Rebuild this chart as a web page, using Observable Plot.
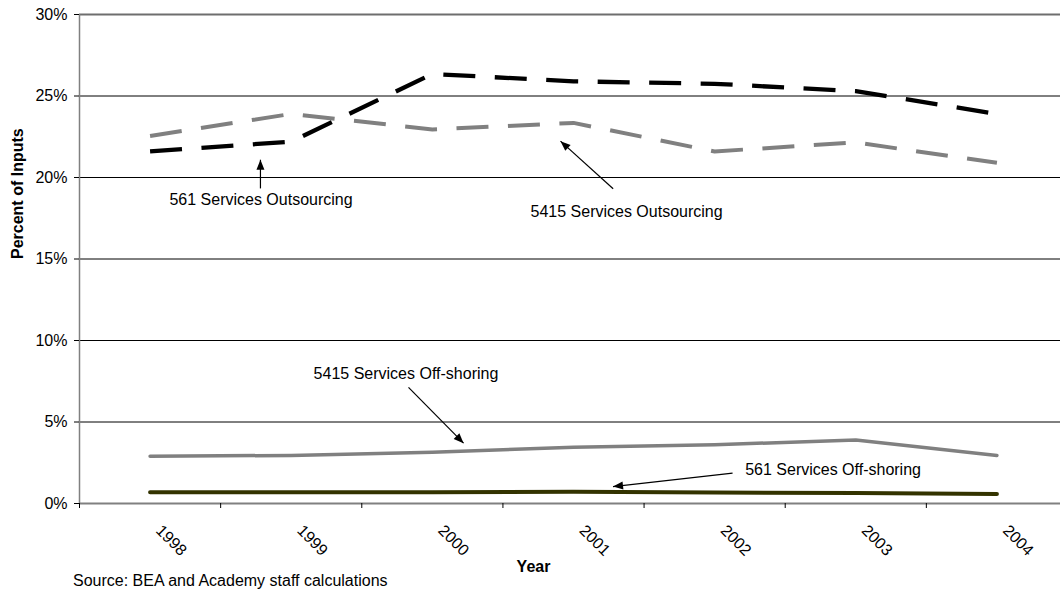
<!DOCTYPE html>
<html>
<head>
<meta charset="utf-8">
<script src="https://cdn.jsdelivr.net/npm/d3@7"></script>
<script src="https://cdn.jsdelivr.net/npm/@observablehq/plot@0.6"></script>
<style>
  html, body { margin: 0; padding: 0; background: #fff; }
  #chart svg { display: block; }
  .source {
    margin: -3px 0 0 73px;
    font-family: "Liberation Sans", Arial, sans-serif;
    font-size: 16px;
    line-height: 16px;
    color: #000;
  }
</style>
</head>
<body>
<div id="chart"></div>
<div class="source">Source: BEA and Academy staff calculations</div>
<script>
// Share of inputs (%) by year
const years = [1998, 1999, 2000, 2001, 2002, 2003, 2004];
const outsourcing561 = [21.6, 22.2, 26.35, 25.9, 25.75, 25.3, 23.9];
const outsourcing5415 = [22.55, 23.9, 22.95, 23.35, 21.6, 22.15, 20.9];
const offshoring5415 = [2.9, 2.95, 3.15, 3.45, 3.6, 3.9, 2.95];
const offshoring561 = [0.69, 0.69, 0.69, 0.72, 0.67, 0.64, 0.58];

const yTicks = [0, 5, 10, 15, 20, 25, 30];
const yGrid = [5, 10, 15, 20, 25];
const yearBoundaries = [1997.5, 1998.5, 1999.5, 2000.5, 2001.5, 2002.5, 2003.5];

// Callout labels with their pointer arrows (data coordinates)
const callouts = [
  {label: "561 Services Outsourcing", tx: 1998.786, ty: 18.65, x1: 1998.782, y1: 19.33, x2: 1998.782, y2: 21.09},
  {label: "5415 Services Outsourcing", tx: 2001.376, ty: 17.87, x1: 2001.281, y1: 19.31, x2: 2000.908, y2: 22.23},
  {label: "5415 Services Off-shoring", tx: 1999.813, ty: 7.98, x1: 1999.831, y1: 7.12, x2: 2000.221, y2: 3.70},
  {label: "561 Services Off-shoring", tx: 2002.839, ty: 2.09, x1: 2002.127, y1: 1.86, x2: 2001.28, y2: 1.04}
];

const rows = years.map((year, i) => ({
  year,
  o561: outsourcing561[i],
  o5415: outsourcing5415[i],
  f5415: offshoring5415[i],
  f561: offshoring561[i]
}));

const width = 1060, height = 576;
const marginLeft = 79, marginTop = 14, marginBottom = 73, marginRight = 0;
const xDomain = [1997.5, 2004.5];
const xRange = [79, 1067];
const yDomain = [0, 30];

// Scales used to orient the filled arrowheads along each pointer
const xs = Plot.scale({x: {type: "linear", domain: xDomain, range: xRange}});
const ys = Plot.scale({y: {type: "linear", domain: yDomain, range: [height - marginBottom, marginTop]}});
const headAngle = d => {
  const dx = xs.apply(d.x2) - xs.apply(d.x1);
  const dy = ys.apply(d.y2) - ys.apply(d.y1);
  return Math.atan2(dx, -dy) * 180 / Math.PI;
};

// Filled triangular arrowhead, tip at the origin, pointing up
const arrowHead = {
  draw(context) {
    context.moveTo(0, 0);
    context.lineTo(-4, 10);
    context.lineTo(4, 10);
    context.closePath();
  }
};

const font = "'Liberation Sans', Arial, sans-serif";

const chart = Plot.plot({
  width, height, marginLeft, marginRight, marginTop, marginBottom,
  style: {fontFamily: font, fontSize: "16px", background: "#fff", color: "#000"},
  x: {type: "linear", domain: xDomain, range: xRange},
  y: {type: "linear", domain: yDomain},
  marks: [
    // gridlines
    Plot.ruleY(yGrid, {stroke: "#000", strokeWidth: 1}),
    Plot.ruleY([30], {stroke: "#6e6e6e", strokeWidth: 2}),
    // axis lines
    Plot.ruleX([1997.5], {stroke: "#808080", strokeWidth: 1.5}),
    Plot.ruleY([0], {stroke: "#808080", strokeWidth: 2}),
    Plot.axisY(yTicks, {tickSize: 5, tickPadding: 7, tickFormat: d => d + "%", label: null, fontSize: 16}),
    Plot.axisX(yearBoundaries, {tickSize: 5, tickFormat: () => "", label: null}),
    // year labels, rotated
    Plot.text(years, {x: d => d, frameAnchor: "bottom", text: d => String(d), rotate: 45,
      textAnchor: "start", lineAnchor: "bottom", dx: 5, dy: 28, fontSize: 16}),
    // axis titles
    Plot.text(["Percent of Inputs"], {frameAnchor: "left", rotate: -90, dx: -61.5,
      fontWeight: "bold", fontSize: 16}),
    Plot.text(["Year"], {frameAnchor: "bottom", dx: -36.5, dy: 68.7, lineAnchor: "bottom",
      fontWeight: "bold", fontSize: 16}),
    // series
    Plot.lineY(rows, {x: "year", y: "o5415", stroke: "#808080", strokeWidth: 4,
      strokeDasharray: "32,19.5", strokeLinecap: "butt", strokeLinejoin: "round"}),
    Plot.lineY(rows, {x: "year", y: "o561", stroke: "#000", strokeWidth: 4.3,
      strokeDasharray: "32,19.5", strokeLinecap: "butt", strokeLinejoin: "round"}),
    Plot.lineY(rows, {x: "year", y: "f5415", stroke: "#808080", strokeWidth: 3.5,
      strokeLinecap: "round", strokeLinejoin: "round"}),
    Plot.lineY(rows, {x: "year", y: "f561", stroke: "#333300", strokeWidth: 4,
      strokeLinecap: "round", strokeLinejoin: "round"}),
    // callouts
    Plot.link(callouts, {x1: "x1", y1: "y1", x2: "x2", y2: "y2", stroke: "#000", strokeWidth: 1.2}),
    Plot.dot(callouts, {x: "x2", y: "y2", symbol: arrowHead, rotate: headAngle, fill: "#000", stroke: "none"}),
    Plot.text(callouts, {x: "tx", y: "ty", text: "label", fontSize: 16, fill: "#000"})
  ]
});

document.getElementById("chart").appendChild(chart);
</script>
</body>
</html>
